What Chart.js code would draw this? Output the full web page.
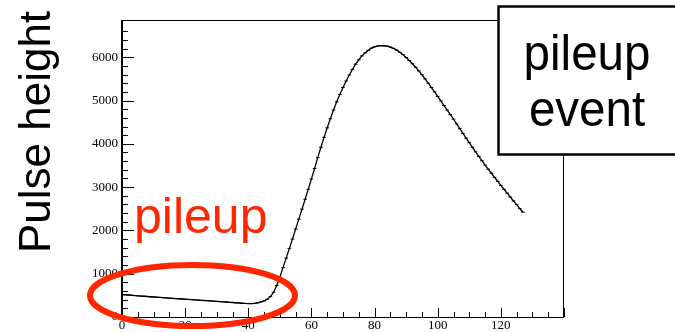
<!DOCTYPE html>
<html>
<head>
<meta charset="utf-8">
<script src="https://cdn.jsdelivr.net/npm/chart.js@4.4.1/dist/chart.umd.min.js"></script>
<style>
  html, body { margin: 0; padding: 0; background: #ffffff; }
  #wrap { width: 675px; height: 332px; position: relative; }
</style>
</head>
<body>
<div id="wrap"><canvas id="c" width="675" height="332"></canvas></div>
<script>
// ---- data ----
const sampleIndex = [
  0,1,2,3,4,5,6,7,8,9,10,11,12,13,14,15,16,17,18,19,
  20,21,22,23,24,25,26,27,28,29,30,31,32,33,34,35,36,37,38,39,
  40,41,42,43,44,45,46,47,48,49,50,51,52,53,54,55,56,57,58,59,
  60,61,62,63,64,65,66,67,68,69,70,71,72,73,74,75,76,77,78,79,
  80,81,82,83,84,85,86,87,88,89,90,91,92,93,94,95,96,97,98,99,
  100,101,102,103,104,105,106,107,108,109,110,111,112,113,114,115,116,117,118,119,
  120,121,122,123,124,125,126,127
];
const pulseHeight = [
  520,514,508,502,496,490,484,479,473,468,
  462,457,451,446,441,436,431,426,421,416,
  411,406,401,396,391,386,381,376,371,366,
  361,356,351,346,340,335,329,324,318,313,
  310,311,317,329,347,372,410,470,570,730,
  920,1140,1360,1580,1800,2030,2260,2490,2720,2950,
  3190,3430,3680,3920,4150,4370,4580,4780,4970,5140,
  5300,5450,5590,5720,5840,5940,6030,6100,6160,6210,
  6240,6260,6270,6265,6255,6235,6205,6165,6115,6060,
  5995,5925,5850,5770,5685,5595,5500,5400,5300,5200,
  5095,4990,4885,4780,4675,4570,4460,4350,4240,4130,
  4025,3920,3815,3710,3610,3510,3415,3320,3225,3135,
  3040,2950,2860,2770,2680,2595,2505,2420
];
const xRange = [0, 140];
const yRange = [0, 6860];
const xTickStep = 5, xLabelStep = 20;
const yTickStep = 200, yLabelStep = 1000;
const yAxisTitle = 'Pulse height';
const redNote = 'pileup';
const boxLines = ['pileup', 'event'];

const points = sampleIndex.map((x, i) => ({ x: x, y: pulseHeight[i] }));

const RED = '#ff2600';

const decorations = {
  id: 'decorations',
  beforeDatasetsDraw(chart) {
    const ctx = chart.ctx;
    const a = chart.chartArea;
    const xs = chart.scales.x, ys = chart.scales.y;
    ctx.save();
    ctx.strokeStyle = '#000';
    // frame
    ctx.lineWidth = 1;
    ctx.strokeRect(a.left + 0.5, a.top + 0.5, a.right - a.left - 1, a.bottom - a.top);
    ctx.lineWidth = 2;
    ctx.beginPath();
    ctx.moveTo(a.left, a.top); ctx.lineTo(a.left, a.bottom + 1);
    ctx.stroke();
    // inward ticks
    ctx.lineWidth = 1;
    ctx.beginPath();
    xs.ticks.forEach(t => {
      if (t.value % xTickStep !== 0) return;
      const px = Math.round(xs.getPixelForValue(t.value)) + 0.5;
      const len = t.value % xLabelStep === 0 ? 9 : 5;
      ctx.moveTo(px, a.bottom); ctx.lineTo(px, a.bottom - len);
    });
    ys.ticks.forEach(t => {
      if (t.value % yTickStep !== 0) return;
      const py = Math.round(ys.getPixelForValue(t.value)) + 0.5;
      const len = t.value % yLabelStep === 0 ? 12 : 6;
      ctx.moveTo(a.left, py); ctx.lineTo(a.left + len, py);
    });
    ctx.stroke();
    ctx.restore();
  },
  afterDraw(chart) {
    const ctx = chart.ctx;
    ctx.save();
    // y axis title
    ctx.save();
    ctx.translate(50, 132);
    ctx.rotate(-Math.PI / 2);
    ctx.fillStyle = '#000';
    ctx.font = '44px "Liberation Sans", Arial, sans-serif';
    ctx.textAlign = 'center';
    ctx.textBaseline = 'alphabetic';
    ctx.fillText(yAxisTitle, 0, 0);
    ctx.restore();

    // red text
    ctx.fillStyle = RED;
    ctx.font = '50px "Liberation Sans", Arial, sans-serif';
    ctx.textAlign = 'left';
    ctx.textBaseline = 'alphabetic';
    ctx.fillText(redNote, 134, 233);

    // red ellipse
    ctx.strokeStyle = RED;
    ctx.lineWidth = 6;
    ctx.beginPath();
    ctx.ellipse(192.5, 295.5, 102.5, 30.5, 0, 0, Math.PI * 2);
    ctx.stroke();

    // box
    ctx.fillStyle = '#fff';
    ctx.fillRect(498, 6, 180, 149);
    ctx.strokeStyle = '#000';
    ctx.lineWidth = 2.5;
    ctx.strokeRect(498.5, 6.5, 180, 148);
    ctx.fillStyle = '#000';
    ctx.font = '50px "Liberation Sans", Arial, sans-serif';
    ctx.textAlign = 'center';
    ctx.save();
    ctx.translate(587, 0);
    ctx.scale(0.95, 1);
    ctx.fillText(boxLines[0], 0, 70);
    ctx.fillText(boxLines[1], 0, 126);
    ctx.restore();
    ctx.restore();
  }
};

new Chart(document.getElementById('c'), {
  type: 'line',
  data: {
    datasets: [{
      data: points,
      borderColor: '#000',
      borderWidth: 1.3,
      fill: false,
      tension: 0,
      pointStyle: 'line',
      pointRadius: 1.8,
      pointBorderWidth: 1,
      pointBorderColor: '#000',
      pointBackgroundColor: '#000'
    }]
  },
  options: {
    responsive: false,
    animation: false,
    events: [],
    layout: { padding: { top: 20, right: 111, left: 0, bottom: 0 } },
    plugins: { legend: { display: false }, tooltip: { enabled: false } },
    scales: {
      x: {
        type: 'linear',
        min: xRange[0], max: xRange[1],
        grid: { display: false, drawTicks: false },
        border: { display: false },
        afterFit(s) { s.height = 15; },
        ticks: {
          stepSize: xTickStep,
          autoSkip: false,
          maxRotation: 0,
          padding: 1,
          color: '#000',
          font: { family: '"Liberation Serif", "Times New Roman", serif', size: 13 },
          callback: v => (v % xLabelStep === 0 && v <= 120 ? String(v) : '')
        }
      },
      y: {
        type: 'linear',
        min: yRange[0], max: yRange[1],
        grid: { display: false, drawTicks: false },
        border: { display: false },
        afterFit(s) { s.width = 122; },
        ticks: {
          stepSize: yTickStep,
          autoSkip: false,
          padding: 4,
          color: '#000',
          font: { family: '"Liberation Serif", "Times New Roman", serif', size: 13 },
          callback: v => (v % yLabelStep === 0 ? String(v) : '')
        }
      }
    }
  },
  plugins: [decorations]
});
</script>
</body>
</html>
